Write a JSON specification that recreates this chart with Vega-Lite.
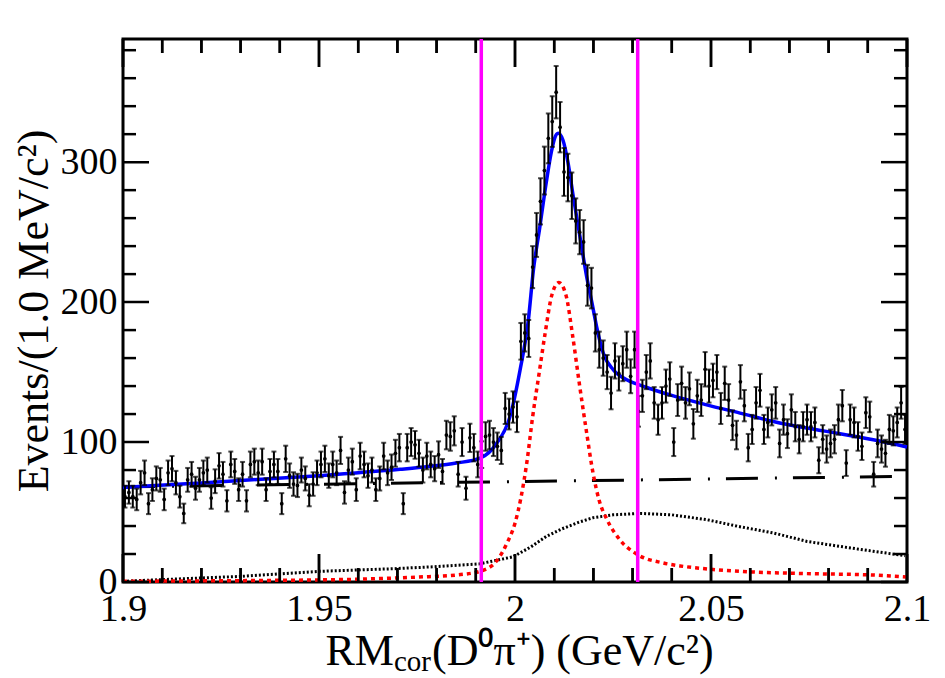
{
  "$schema": "https://vega.github.io/schema/vega-lite/v6.json",
  "width": 784,
  "height": 543,
  "autosize": {"type": "none"},
  "padding": {"left": 123, "top": 39, "right": 38, "bottom": 96},
  "background": "white",
  "config": {
    "font": "Liberation Serif",
    "view": {"stroke": "black", "strokeWidth": 3},
    "axis": {"grid": false, "domain": false, "labelFont": "Liberation Serif", "titleFont": "Liberation Serif", "labelColor": "black", "titleColor": "black"}
  },
  "resolve": {"axis": {"x": "independent", "y": "independent"}},
  "datasets": {
    "bins": [
      {"mass":1.9005,"events":61,"err":7.8},{"mass":1.9015,"events":64,"err":8},{"mass":1.9025,"events":61,"err":7.8},{"mass":1.9035,"events":59,"err":7.7},{"mass":1.9045,"events":71,"err":8.4},
      {"mass":1.9055,"events":78,"err":8.8},{"mass":1.9065,"events":56,"err":7.5},{"mass":1.9075,"events":66,"err":8.1},{"mass":1.9085,"events":74,"err":8.6},{"mass":1.9095,"events":73,"err":8.5},
      {"mass":1.9105,"events":59,"err":7.7},{"mass":1.9115,"events":78,"err":8.8},{"mass":1.9125,"events":81,"err":9},{"mass":1.9135,"events":71,"err":8.4},{"mass":1.9145,"events":61,"err":7.8},
      {"mass":1.9155,"events":49,"err":7},{"mass":1.9165,"events":73,"err":8.5},{"mass":1.9175,"events":77,"err":8.8},{"mass":1.9185,"events":67,"err":8.2},{"mass":1.9195,"events":73,"err":8.5},
      {"mass":1.9205,"events":78,"err":8.8},{"mass":1.9215,"events":80,"err":8.9},{"mass":1.9225,"events":60,"err":7.7},{"mass":1.9235,"events":72,"err":8.5},{"mass":1.9245,"events":83,"err":9.1},
      {"mass":1.9255,"events":77,"err":8.8},{"mass":1.9265,"events":58,"err":7.6},{"mass":1.9275,"events":84,"err":9.2},{"mass":1.9285,"events":79,"err":8.9},{"mass":1.9295,"events":66,"err":8.1},
      {"mass":1.9305,"events":77,"err":8.8},{"mass":1.9315,"events":58,"err":7.6},{"mass":1.9325,"events":84,"err":9.2},{"mass":1.9335,"events":86,"err":9.3},{"mass":1.9345,"events":78,"err":8.8},
      {"mass":1.9355,"events":86,"err":9.3},{"mass":1.9365,"events":66,"err":8.1},{"mass":1.9375,"events":79,"err":8.9},{"mass":1.9385,"events":84,"err":9.2},{"mass":1.9395,"events":79,"err":8.9},
      {"mass":1.9405,"events":56,"err":7.5},{"mass":1.9415,"events":88,"err":9.4},{"mass":1.9425,"events":76,"err":8.7},{"mass":1.9435,"events":70,"err":8.4},{"mass":1.9445,"events":69,"err":8.3},
      {"mass":1.9455,"events":80,"err":8.9},{"mass":1.9465,"events":74,"err":8.6},{"mass":1.9475,"events":62,"err":7.9},{"mass":1.9485,"events":70,"err":8.4},{"mass":1.9495,"events":78,"err":8.8},
      {"mass":1.9505,"events":84,"err":9.2},{"mass":1.9515,"events":88,"err":9.4},{"mass":1.9525,"events":76,"err":8.7},{"mass":1.9535,"events":84,"err":9.2},{"mass":1.9545,"events":78,"err":8.8},
      {"mass":1.9555,"events":94,"err":9.7},{"mass":1.9565,"events":64,"err":8},{"mass":1.9575,"events":80,"err":8.9},{"mass":1.9585,"events":86,"err":9.3},{"mass":1.9595,"events":66,"err":8.1},
      {"mass":1.9605,"events":90,"err":9.5},{"mass":1.9615,"events":84,"err":9.2},{"mass":1.9625,"events":76,"err":8.7},{"mass":1.9635,"events":80,"err":8.9},{"mass":1.9645,"events":66,"err":8.1},
      {"mass":1.9655,"events":74,"err":8.6},{"mass":1.9665,"events":90,"err":9.5},{"mass":1.9675,"events":78,"err":8.8},{"mass":1.9685,"events":82,"err":9.1},{"mass":1.9695,"events":92,"err":9.6},
      {"mass":1.9705,"events":96,"err":9.8},{"mass":1.9715,"events":56,"err":7.5},{"mass":1.9725,"events":96,"err":9.8},{"mass":1.9735,"events":100,"err":10},{"mass":1.9745,"events":98,"err":9.9},
      {"mass":1.9755,"events":92,"err":9.6},{"mass":1.9765,"events":80,"err":8.9},{"mass":1.9775,"events":90,"err":9.5},{"mass":1.9785,"events":84,"err":9.2},{"mass":1.9795,"events":81,"err":9},
      {"mass":1.9805,"events":91,"err":9.5},{"mass":1.9815,"events":79,"err":8.9},{"mass":1.9825,"events":105,"err":10.2},{"mass":1.9835,"events":104,"err":10.2},{"mass":1.9845,"events":108,"err":10.4},
      {"mass":1.9855,"events":77,"err":8.8},{"mass":1.9865,"events":100,"err":10},{"mass":1.9875,"events":67,"err":8.2},{"mass":1.9885,"events":103,"err":10.1},{"mass":1.9895,"events":96,"err":9.8},
      {"mass":1.9905,"events":84,"err":9.2},{"mass":1.9915,"events":91,"err":9.5},{"mass":1.9925,"events":104,"err":10.2},{"mass":1.9935,"events":105,"err":10.2},{"mass":1.9945,"events":100,"err":10},
      {"mass":1.9955,"events":97,"err":9.8},{"mass":1.9965,"events":94,"err":9.7},{"mass":1.9975,"events":124,"err":11.1},{"mass":1.9985,"events":120,"err":11},{"mass":1.9995,"events":125,"err":11.2},
      {"mass":2.0005,"events":118,"err":10.9},{"mass":2.0015,"events":172,"err":13.1},{"mass":2.0025,"events":178,"err":13.3},{"mass":2.0035,"events":174,"err":13.2},{"mass":2.0045,"events":225,"err":15},
      {"mass":2.0055,"events":248,"err":15.7},{"mass":2.0065,"events":272,"err":16.5},{"mass":2.0075,"events":294,"err":17.1},{"mass":2.0085,"events":317,"err":17.8},{"mass":2.0095,"events":329,"err":18.1},
      {"mass":2.0105,"events":350,"err":18.7},{"mass":2.0115,"events":325,"err":18},{"mass":2.0125,"events":293,"err":17.1},{"mass":2.0135,"events":289,"err":17},{"mass":2.0145,"events":276,"err":16.6},
      {"mass":2.0155,"events":258,"err":16.1},{"mass":2.0165,"events":250,"err":15.8},{"mass":2.0175,"events":243,"err":15.6},{"mass":2.0185,"events":212,"err":14.6},{"mass":2.0195,"events":210,"err":14.5},
      {"mass":2.0205,"events":178,"err":13.3},{"mass":2.0215,"events":166,"err":12.9},{"mass":2.0225,"events":160,"err":12.6},{"mass":2.0235,"events":150,"err":12.2},{"mass":2.0245,"events":135,"err":11.6},
      {"mass":2.0255,"events":158,"err":12.6},{"mass":2.0265,"events":149,"err":12.2},{"mass":2.0275,"events":156,"err":12.5},{"mass":2.0285,"events":166,"err":12.9},{"mass":2.0295,"events":147,"err":12.1},
      {"mass":2.0305,"events":166,"err":12.9},{"mass":2.0315,"events":122,"err":11},{"mass":2.0325,"events":133,"err":11.5},{"mass":2.0335,"events":150,"err":12.2},{"mass":2.0345,"events":158,"err":12.6},
      {"mass":2.0355,"events":128,"err":11.3},{"mass":2.0365,"events":116,"err":10.8},{"mass":2.0375,"events":128,"err":11.3},{"mass":2.0385,"events":140,"err":11.8},{"mass":2.0395,"events":145,"err":12},
      {"mass":2.0405,"events":100,"err":10},{"mass":2.0415,"events":130,"err":11.4},{"mass":2.0425,"events":142,"err":11.9},{"mass":2.0435,"events":128,"err":11.3},{"mass":2.0445,"events":138,"err":11.7},
      {"mass":2.0455,"events":113,"err":10.6},{"mass":2.0465,"events":133,"err":11.5},{"mass":2.0475,"events":130,"err":11.4},{"mass":2.0485,"events":152,"err":12.3},{"mass":2.0495,"events":140,"err":11.8},
      {"mass":2.0505,"events":144,"err":12},{"mass":2.0515,"events":150,"err":12.2},{"mass":2.0525,"events":124,"err":11.1},{"mass":2.0535,"events":142,"err":11.9},{"mass":2.0545,"events":130,"err":11.4},
      {"mass":2.0555,"events":112,"err":10.6},{"mass":2.0565,"events":105,"err":10.2},{"mass":2.0575,"events":143,"err":12},{"mass":2.0585,"events":126,"err":11.2},{"mass":2.0595,"events":96,"err":9.8},
      {"mass":2.0605,"events":109,"err":10.4},{"mass":2.0615,"events":128,"err":11.3},{"mass":2.0625,"events":137,"err":11.7},{"mass":2.0635,"events":109,"err":10.4},{"mass":2.0645,"events":114,"err":10.7},
      {"mass":2.0655,"events":123,"err":11.1},{"mass":2.0665,"events":128,"err":11.3},{"mass":2.0675,"events":99,"err":9.9},{"mass":2.0685,"events":116,"err":10.8},{"mass":2.0695,"events":106,"err":10.3},
      {"mass":2.0705,"events":123,"err":11.1},{"mass":2.0715,"events":111,"err":10.5},{"mass":2.0725,"events":102,"err":10.1},{"mass":2.0735,"events":111,"err":10.5},{"mass":2.0745,"events":116,"err":10.8},
      {"mass":2.0755,"events":111,"err":10.5},{"mass":2.0765,"events":114,"err":10.7},{"mass":2.0775,"events":87,"err":9.3},{"mass":2.0785,"events":102,"err":10.1},{"mass":2.0795,"events":95,"err":9.7},
      {"mass":2.0805,"events":99,"err":9.9},{"mass":2.0815,"events":102,"err":10.1},{"mass":2.0825,"events":116,"err":10.8},{"mass":2.0835,"events":126,"err":11.2},{"mass":2.0845,"events":85,"err":9.2},
      {"mass":2.0855,"events":116,"err":10.8},{"mass":2.0865,"events":114,"err":10.7},{"mass":2.0875,"events":104,"err":10.2},{"mass":2.0885,"events":97,"err":9.8},{"mass":2.0895,"events":121,"err":11},
      {"mass":2.0905,"events":118,"err":10.9},{"mass":2.0915,"events":77,"err":8.8},{"mass":2.0925,"events":99,"err":9.9},{"mass":2.0935,"events":95,"err":9.7},{"mass":2.0945,"events":92,"err":9.6},
      {"mass":2.0955,"events":109,"err":10.4},{"mass":2.0965,"events":108,"err":10.4},{"mass":2.0975,"events":114,"err":10.7},{"mass":2.0985,"events":128,"err":11.3},{"mass":2.0995,"events":109,"err":10.4}
    ],
    "curves": [
      {"part":"background","mass":1.9,"events":68},{"part":"background","mass":2.1,"events":75.5},
      {"part":"peaking","mass":1.9,"events":0.5},{"part":"peaking","mass":1.915,"events":2.3},{"part":"peaking","mass":1.93,"events":4},{"part":"peaking","mass":1.95,"events":7.6},
      {"part":"peaking","mass":1.969,"events":9.5},{"part":"peaking","mass":1.98,"events":11},{"part":"peaking","mass":1.991,"events":13},{"part":"peaking","mass":1.9995,"events":18},
      {"part":"peaking","mass":2.004,"events":25},{"part":"peaking","mass":2.008,"events":32.6},{"part":"peaking","mass":2.012,"events":38},{"part":"peaking","mass":2.0166,"events":43},
      {"part":"peaking","mass":2.02,"events":46},{"part":"peaking","mass":2.025,"events":48},{"part":"peaking","mass":2.032,"events":49},{"part":"peaking","mass":2.04,"events":48},
      {"part":"peaking","mass":2.049,"events":44.5},{"part":"peaking","mass":2.057,"events":39.7},{"part":"peaking","mass":2.066,"events":35},{"part":"peaking","mass":2.0745,"events":29},
      {"part":"peaking","mass":2.083,"events":25.4},{"part":"peaking","mass":2.0913,"events":22},{"part":"peaking","mass":2.0995,"events":18.8},
      {"part":"signal","mass":1.9,"events":0.5},{"part":"signal","mass":1.92,"events":0.8},{"part":"signal","mass":1.94,"events":1.2},{"part":"signal","mass":1.96,"events":2},
      {"part":"signal","mass":1.975,"events":3.5},{"part":"signal","mass":1.985,"events":5},{"part":"signal","mass":1.991,"events":7.6},{"part":"signal","mass":1.9953,"events":15},
      {"part":"signal","mass":1.998,"events":28},{"part":"signal","mass":2.0,"events":42},{"part":"signal","mass":2.0015,"events":60},{"part":"signal","mass":2.003,"events":85},
      {"part":"signal","mass":2.0045,"events":118},{"part":"signal","mass":2.0062,"events":150},{"part":"signal","mass":2.0077,"events":178},{"part":"signal","mass":2.0094,"events":205},
      {"part":"signal","mass":2.0112,"events":214},{"part":"signal","mass":2.013,"events":205},{"part":"signal","mass":2.0147,"events":176},{"part":"signal","mass":2.0164,"events":142},
      {"part":"signal","mass":2.0182,"events":108},{"part":"signal","mass":2.0199,"events":78},{"part":"signal","mass":2.0215,"events":58},{"part":"signal","mass":2.0234,"events":45},
      {"part":"signal","mass":2.0268,"events":30},{"part":"signal","mass":2.031,"events":20},{"part":"signal","mass":2.0378,"events":13.6},{"part":"signal","mass":2.0421,"events":11.5},
      {"part":"signal","mass":2.049,"events":9.3},{"part":"signal","mass":2.0574,"events":7.6},{"part":"signal","mass":2.0745,"events":6},{"part":"signal","mass":2.0913,"events":5},
      {"part":"signal","mass":2.1,"events":3.6},
      {"part":"total","mass":1.9,"events":67.5},{"part":"total","mass":1.915,"events":70},{"part":"total","mass":1.93,"events":72.5},{"part":"total","mass":1.95,"events":76},
      {"part":"total","mass":1.9707,"events":80.5},{"part":"total","mass":1.978,"events":82.5},{"part":"total","mass":1.985,"events":85},{"part":"total","mass":1.9911,"events":88.5},
      {"part":"total","mass":1.9953,"events":99},{"part":"total","mass":1.9987,"events":118},{"part":"total","mass":2.0013,"events":151.6},{"part":"total","mass":2.0034,"events":187},
      {"part":"total","mass":2.0047,"events":223},{"part":"total","mass":2.0063,"events":253},{"part":"total","mass":2.008,"events":286},{"part":"total","mass":2.0093,"events":307.6},
      {"part":"total","mass":2.0101,"events":317},{"part":"total","mass":2.011,"events":320.7},{"part":"total","mass":2.0122,"events":316},{"part":"total","mass":2.0135,"events":300},
      {"part":"total","mass":2.0148,"events":276.6},{"part":"total","mass":2.0165,"events":248},{"part":"total","mass":2.0182,"events":219.5},{"part":"total","mass":2.0199,"events":195.7},
      {"part":"total","mass":2.0208,"events":182.6},{"part":"total","mass":2.0225,"events":163.6},{"part":"total","mass":2.0251,"events":151.6},{"part":"total","mass":2.0285,"events":144.5},
      {"part":"total","mass":2.0315,"events":141},{"part":"total","mass":2.0353,"events":137.4},{"part":"total","mass":2.0404,"events":133},{"part":"total","mass":2.0489,"events":126.6},
      {"part":"total","mass":2.0574,"events":120.7},{"part":"total","mass":2.0659,"events":114.7},{"part":"total","mass":2.0744,"events":110},{"part":"total","mass":2.0829,"events":106},
      {"part":"total","mass":2.0914,"events":101.6},{"part":"total","mass":2.1,"events":96.5}
    ],
    "cuts": [{"mass": 1.9914}, {"mass": 2.0313}],
    "xmajor": [{"mass": 1.9}, {"mass": 1.95}, {"mass": 2.0}, {"mass": 2.05}, {"mass": 2.1}],
    "xminor": [{"mass": 1.91}, {"mass": 1.92}, {"mass": 1.93}, {"mass": 1.94}, {"mass": 1.96}, {"mass": 1.97}, {"mass": 1.98}, {"mass": 1.99},
               {"mass": 2.01}, {"mass": 2.02}, {"mass": 2.03}, {"mass": 2.04}, {"mass": 2.06}, {"mass": 2.07}, {"mass": 2.08}, {"mass": 2.09}],
    "ymajor": [{"events": 0}, {"events": 100}, {"events": 200}, {"events": 300}],
    "yminor": [{"events": 20}, {"events": 40}, {"events": 60}, {"events": 80}, {"events": 120}, {"events": 140}, {"events": 160}, {"events": 180},
               {"events": 220}, {"events": 240}, {"events": 260}, {"events": 280}, {"events": 320}, {"events": 340}, {"events": 360}, {"events": 380}]
  },
  "layer": [
    {
      "data": {"name": "curves"},
      "transform": [{"filter": "datum.part == 'background'"}],
      "mark": {"type": "line", "color": "black", "strokeWidth": 3, "strokeDash": [32, 17, 2, 16]},
      "encoding": {
        "x": {"field": "mass", "type": "quantitative", "scale": {"domain": [1.9, 2.1], "nice": false, "zero": false},
          "axis": {"orient": "bottom", "values": [1.9, 1.95, 2, 2.05, 2.1], "format": ".2~f", "ticks": false, "labelFont": "Liberation Serif", "labelFontSize": 38, "labelColor": "black",
            "labelPadding": 8, "labelFlush": false, "labelOverlap": false, "title": null}},
        "y": {"field": "events", "type": "quantitative", "scale": {"domain": [0, 388], "nice": false, "zero": false},
          "axis": {"orient": "left", "values": [0, 100, 200, 300], "ticks": false, "labelFont": "Liberation Serif", "labelFontSize": 38, "labelColor": "black", "labelPadding": 6,
            "title": "Events/(1.0 MeV/c²)", "titleFont": "Liberation Serif", "titleFontSize": 44, "titleFontWeight": "normal", "titleColor": "black", "titlePadding": 4}}
      }
    },
    {
      "data": {"name": "curves"},
      "transform": [{"filter": "datum.part == 'peaking'"}],
      "mark": {"type": "line", "color": "black", "strokeWidth": 3, "strokeDash": [2, 2]},
      "encoding": {
        "x": {"field": "mass", "type": "quantitative", "scale": {"domain": [1.9, 2.1], "nice": false, "zero": false}, "axis": null},
        "y": {"field": "events", "type": "quantitative", "scale": {"domain": [0, 388], "nice": false, "zero": false}, "axis": null}
      }
    },
    {
      "data": {"name": "curves"},
      "transform": [{"filter": "datum.part == 'signal'"}],
      "mark": {"type": "line", "color": "#ff0000", "strokeWidth": 3.5, "strokeDash": [4, 4], "interpolate": "monotone"},
      "encoding": {
        "x": {"field": "mass", "type": "quantitative", "scale": {"domain": [1.9, 2.1], "nice": false, "zero": false}, "axis": null},
        "y": {"field": "events", "type": "quantitative", "scale": {"domain": [0, 388], "nice": false, "zero": false}, "axis": null}
      }
    },
    {
      "data": {"name": "curves"},
      "transform": [{"filter": "datum.part == 'total'"}],
      "mark": {"type": "line", "color": "#0000ff", "strokeWidth": 3.5, "interpolate": "monotone"},
      "encoding": {
        "x": {"field": "mass", "type": "quantitative", "scale": {"domain": [1.9, 2.1], "nice": false, "zero": false}, "axis": null},
        "y": {"field": "events", "type": "quantitative", "scale": {"domain": [0, 388], "nice": false, "zero": false}, "axis": null}
      }
    },
    {
      "data": {"name": "bins"},
      "mark": {"type": "errorbar", "color": "black", "thickness": 2, "ticks": {"size": 5, "thickness": 2}},
      "encoding": {
        "x": {"field": "mass", "type": "quantitative", "scale": {"domain": [1.9, 2.1], "nice": false, "zero": false}, "axis": null},
        "y": {"field": "events", "type": "quantitative", "scale": {"domain": [0, 388], "nice": false, "zero": false}, "axis": null},
        "yError": {"field": "err"}
      }
    },
    {
      "data": {"name": "bins"},
      "mark": {"type": "circle", "color": "black", "size": 14, "opacity": 1},
      "encoding": {
        "x": {"field": "mass", "type": "quantitative", "scale": {"domain": [1.9, 2.1], "nice": false, "zero": false}, "axis": null},
        "y": {"field": "events", "type": "quantitative", "scale": {"domain": [0, 388], "nice": false, "zero": false}, "axis": null}
      }
    },
    {
      "data": {"name": "cuts"},
      "mark": {"type": "rule", "color": "#ff00ff", "strokeWidth": 3.5},
      "encoding": {
        "x": {"field": "mass", "type": "quantitative", "scale": {"domain": [1.9, 2.1], "nice": false, "zero": false}, "axis": null}
      }
    },
    {
      "data": {"name": "xmajor"},
      "mark": {"type": "tick", "color": "black", "size": 28, "thickness": 2.5, "opacity": 1},
      "encoding": {"x": {"field": "mass", "type": "quantitative", "axis": null}, "y": {"datum": 10, "type": "quantitative", "axis": null}}
    },
    {
      "data": {"name": "xminor"},
      "mark": {"type": "tick", "color": "black", "size": 14, "thickness": 2.5, "opacity": 1},
      "encoding": {"x": {"field": "mass", "type": "quantitative", "axis": null}, "y": {"datum": 5, "type": "quantitative", "axis": null}}
    },
    {
      "data": {"name": "xmajor"},
      "mark": {"type": "tick", "color": "black", "size": 28, "thickness": 2.5, "opacity": 1},
      "encoding": {"x": {"field": "mass", "type": "quantitative", "axis": null}, "y": {"datum": 378, "type": "quantitative", "axis": null}}
    },
    {
      "data": {"name": "xminor"},
      "mark": {"type": "tick", "color": "black", "size": 14, "thickness": 2.5, "opacity": 1},
      "encoding": {"x": {"field": "mass", "type": "quantitative", "axis": null}, "y": {"datum": 383, "type": "quantitative", "axis": null}}
    },
    {
      "data": {"name": "xmajor"},
      "mark": {"type": "rule", "color": "black", "strokeWidth": 2.5},
      "encoding": {"x": {"field": "mass", "type": "quantitative", "axis": null}, "y": {"datum": 0, "type": "quantitative", "axis": null}, "y2": {"datum": 20}}
    },
    {
      "data": {"name": "xminor"},
      "mark": {"type": "rule", "color": "black", "strokeWidth": 2.5},
      "encoding": {"x": {"field": "mass", "type": "quantitative", "axis": null}, "y": {"datum": 0, "type": "quantitative", "axis": null}, "y2": {"datum": 10}}
    },
    {
      "data": {"name": "xmajor"},
      "mark": {"type": "rule", "color": "black", "strokeWidth": 2.5},
      "encoding": {"x": {"field": "mass", "type": "quantitative", "axis": null}, "y": {"datum": 388, "type": "quantitative", "axis": null}, "y2": {"datum": 368}}
    },
    {
      "data": {"name": "xminor"},
      "mark": {"type": "rule", "color": "black", "strokeWidth": 2.5},
      "encoding": {"x": {"field": "mass", "type": "quantitative", "axis": null}, "y": {"datum": 388, "type": "quantitative", "axis": null}, "y2": {"datum": 378}}
    },
    {
      "data": {"name": "ymajor"},
      "mark": {"type": "tick", "color": "black", "orient": "horizontal", "size": 26, "thickness": 2.5, "opacity": 1},
      "encoding": {"y": {"field": "events", "type": "quantitative", "axis": null}, "x": {"datum": 1.90332, "type": "quantitative", "axis": null}}
    },
    {
      "data": {"name": "yminor"},
      "mark": {"type": "tick", "color": "black", "orient": "horizontal", "size": 13, "thickness": 2.5, "opacity": 1},
      "encoding": {"y": {"field": "events", "type": "quantitative", "axis": null}, "x": {"datum": 1.90166, "type": "quantitative", "axis": null}}
    },
    {
      "data": {"name": "ymajor"},
      "mark": {"type": "tick", "color": "black", "orient": "horizontal", "size": 26, "thickness": 2.5, "opacity": 1},
      "encoding": {"y": {"field": "events", "type": "quantitative", "axis": null}, "x": {"datum": 2.09668, "type": "quantitative", "axis": null}}
    },
    {
      "data": {"name": "yminor"},
      "mark": {"type": "tick", "color": "black", "orient": "horizontal", "size": 13, "thickness": 2.5, "opacity": 1},
      "encoding": {"y": {"field": "events", "type": "quantitative", "axis": null}, "x": {"datum": 2.09834, "type": "quantitative", "axis": null}}
    },
    {
      "data": {"values": [{}]},
      "mark": {"type": "text", "text": "RM", "align": "right", "baseline": "alphabetic", "font": "Liberation Serif", "fontSize": 44, "color": "black"},
      "encoding": {"x": {"datum": 1.96913, "type": "quantitative", "axis": null}, "y": {"datum": -59.5, "type": "quantitative", "axis": null}}
    },
    {
      "data": {"values": [{}]},
      "mark": {"type": "text", "text": "cor", "align": "left", "baseline": "alphabetic", "font": "Liberation Serif", "fontSize": 29, "color": "black"},
      "encoding": {"x": {"datum": 1.96913, "type": "quantitative", "axis": null}, "y": {"datum": -63.5, "type": "quantitative", "axis": null}}
    },
    {
      "data": {"values": [{}]},
      "mark": {"type": "text", "text": "(D⁰π⁺) (GeV/c²)", "align": "left", "baseline": "alphabetic", "font": "Liberation Serif", "fontSize": 44, "color": "black"},
      "encoding": {"x": {"datum": 1.97883, "type": "quantitative", "axis": null}, "y": {"datum": -59.5, "type": "quantitative", "axis": null}}
    }
  ]
}
